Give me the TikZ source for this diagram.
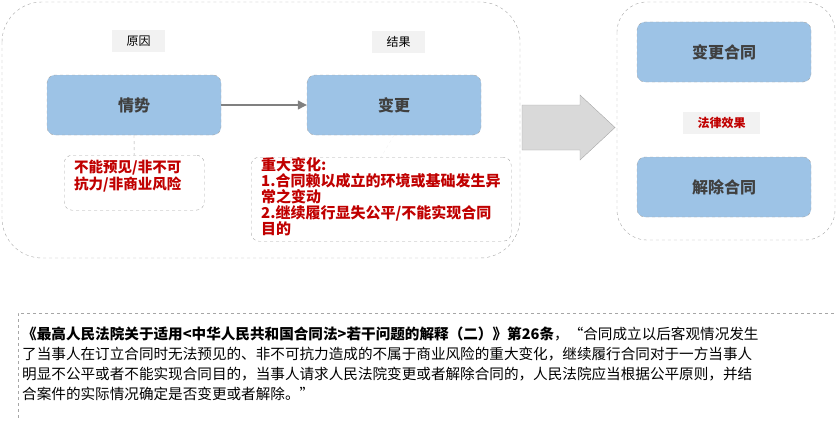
\documentclass[tikz,border=0pt]{standalone}
\usepackage{fontspec}
\setmainfont{Liberation Sans}
\newfontfamily\cjk{Noto Sans CJK SC}
\usetikzlibrary{arrows.meta}
\definecolor{boxblue}{HTML}{9DC3E6}
\definecolor{dgray}{HTML}{A6A6A6}
\definecolor{lgray}{HTML}{F2F2F2}
\definecolor{agray}{HTML}{D9D9D9}
\definecolor{dred}{HTML}{C00000}
\begin{document}
\begin{tikzpicture}[x=1pt,y=-1pt,
  frame/.style={draw=dgray,dashed,rounded corners=#1},
  blue/.style={draw=dgray,dashed,fill=boxblue,rounded corners=8,minimum width=174pt,minimum height=60pt,font=\cjk\bfseries\fontsize{16}{18}\selectfont,text=black!75},
  tag/.style={fill=lgray,minimum width=53pt,minimum height=22pt,font=\cjk\fontsize{12}{14}\selectfont},
  red/.style={draw=dgray,dashed,rounded corners=8,text=dred,font=\cjk\bfseries\fontsize{14.5}{17}\selectfont,align=left}]
\useasboundingbox (0,0) rectangle (837,420);
\draw[frame=40] (2,2) rectangle (520,258);
\draw[frame=30] (617,2) rectangle (835,240);
\draw[draw=dgray,dashed] (840,313) -- (18,313) -- (18,425);
\node[tag] (yy) at (138.5,41) {原因};
\node[tag] (jg) at (398.5,42) {结果};
\node[blue] (qs) at (134,105) {情势};
\node[blue] (bg) at (394,105) {变更};
\draw[gray,line width=1.2pt,-{Triangle[length=9pt,width=9pt]}] (qs) -- (bg);
\node[red,minimum width=140pt,minimum height=55pt,anchor=north west,inner sep=0pt] (r1) at (64,155) {};
\node[red,draw=none,anchor=north west,inner sep=0pt] at (74,160) {不能预见/非不可\\抗力/非商业风险};
\node[red,minimum width=260pt,minimum height=84pt,anchor=north west,inner sep=0pt] (r2) at (251,157) {};
\node[red,draw=none,anchor=north west,inner sep=0pt,font=\cjk\bfseries\fontsize{15}{16}\selectfont] at (261,157) {重大变化:\\1.合同赖以成立的环境或基础发生异\\常之变动\\2.继续履行显失公平/不能实现合同\\目的};
\draw[dgray,dashed] (qs.south) -- (r1.north);
\draw[lgray,dashed] (bg.south) -- (r2.north);
\draw[dgray,fill=agray] (522,105) -- (580,105) -- (580,95) -- (615,127.5) -- (580,160) -- (580,150) -- (522,150) -- cycle;
\node[blue] (bghe) at (724,52) {变更合同};
\node[tag,minimum width=77pt,text=dred,font=\cjk\bfseries\fontsize{12}{14}\selectfont] (fl) at (721.5,123) {法律效果};
\node[blue] (jc) at (724,187) {解除合同};
\node[anchor=north west,inner sep=0pt,font=\cjk\fontsize{14.6}{20}\selectfont,align=left] (txt) at (22,327) {{\bfseries《最高人民法院关于适用<中华人民共和国合同法>若干问题的解释（二）》第26条}，“合同成立以后客观情况发生\\了当事人在订立合同时无法预见的、非不可抗力造成的不属于商业风险的重大变化，继续履行合同对于一方当事人\\明显不公平或者不能实现合同目的，当事人请求人民法院变更或者解除合同的，人民法院应当根据公平原则，并结\\合案件的实际情况确定是否变更或者解除。”};
\end{tikzpicture}
\end{document}
